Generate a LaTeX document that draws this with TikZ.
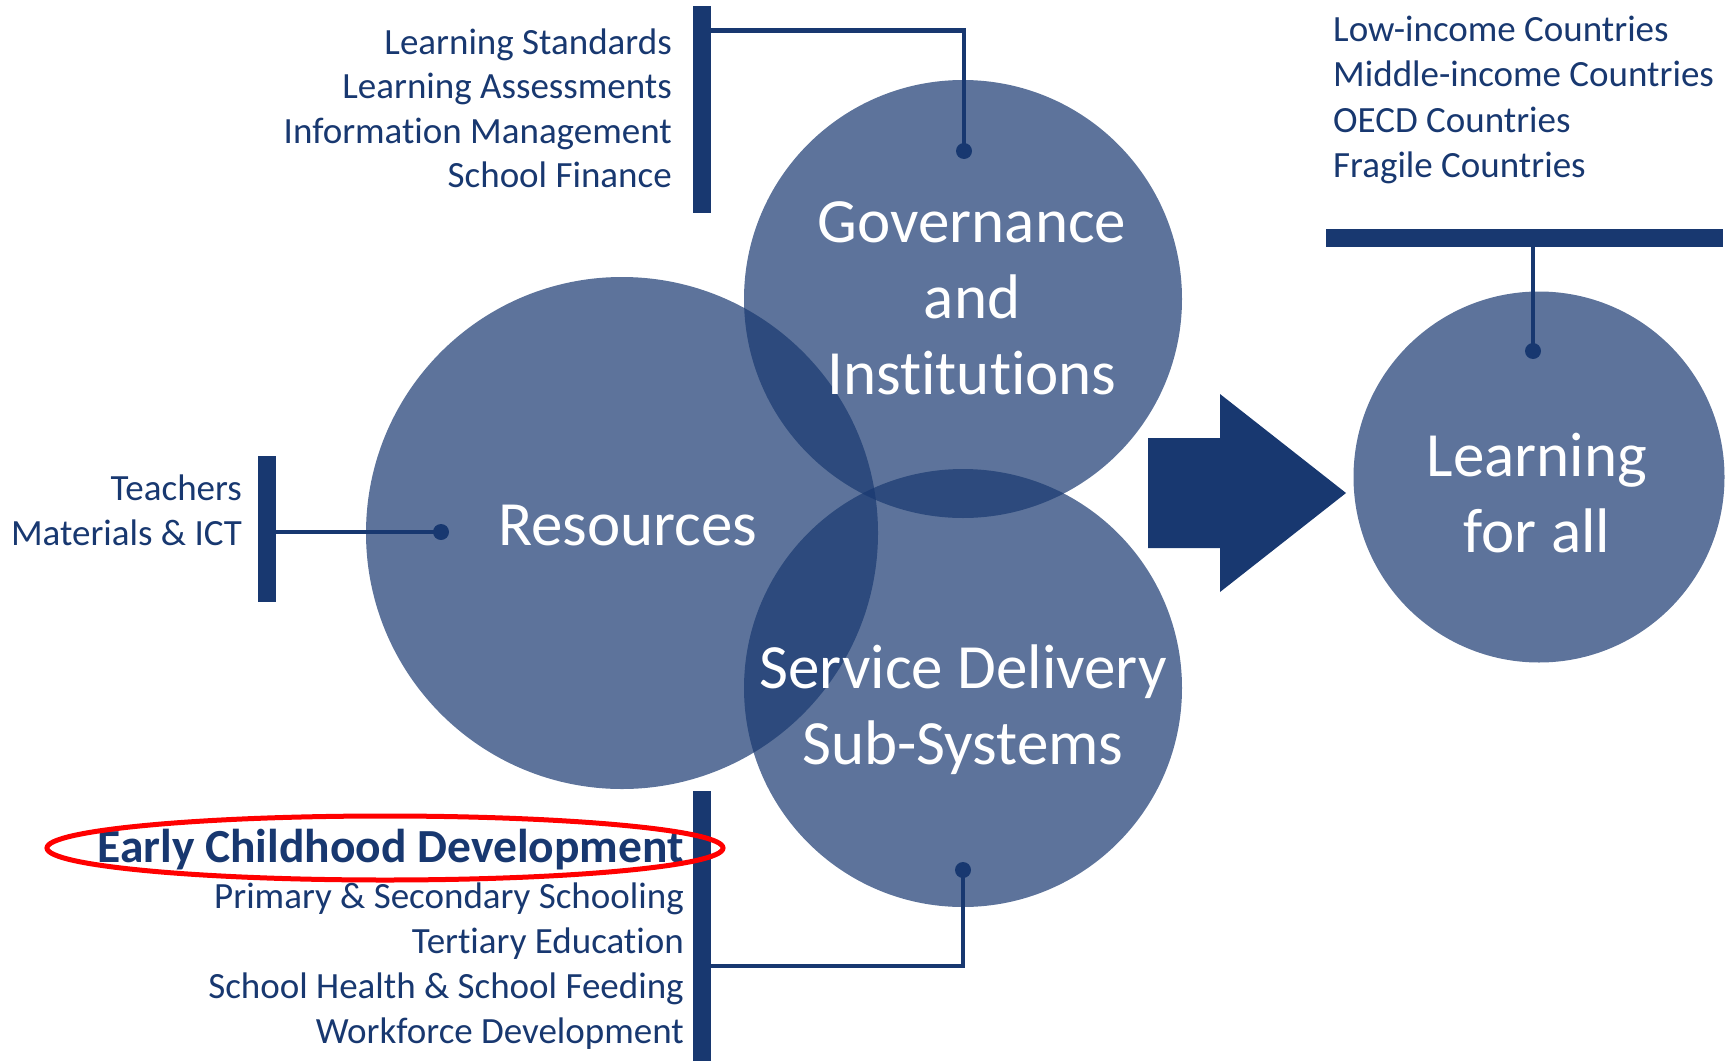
\documentclass[tikz,border=0pt]{standalone}
\usepackage{fontspec}
\setmainfont{Carlito}[Ligatures={NoCommon}]
\usetikzlibrary{shapes.geometric}
\definecolor{navy}{RGB}{24,56,112}
\begin{document}
\begin{tikzpicture}[x=1pt,y=-1pt,
  bubble/.style={circle, fill=navy, fill opacity=0.7, draw=none, inner sep=0pt, minimum size=#1},
  lbl/.style={text=white, font=\fontsize{63pt}{76pt}\selectfont, anchor=base, inner sep=0pt},
  item/.style={text=navy, font=\fontsize{37pt}{44pt}\selectfont, anchor=base east, inner sep=0pt},
  itemL/.style={item, anchor=base west},
  bar/.style={fill=navy, draw=none, inner sep=0pt, outer sep=0pt},
  dotn/.style={circle, fill=navy, draw=none, inner sep=0pt, minimum size=16pt},
  conn/.style={draw=navy, line width=4.5pt}
]
\useasboundingbox (0,0) rectangle (1729,1060);

% circles
\node[bubble=512pt] (res) at (622,533) {};
\node[bubble=438pt] (gov) at (963,299) {};
\node[bubble=438pt] (sds) at (963,688) {};
\node[bubble=371pt] (lfa) at (1539,477) {};

% circle labels
\node[lbl] (resT) at (628,545) {Resources};
\node[lbl] (govT1) at (972,242) {Governance};
\node[lbl] (govT2) at (972,318) {and};
\node[lbl] (govT3) at (972,394) {Institutions};
\node[lbl] (sdsT1) at (963,688) {Service Delivery};
\node[lbl] (sdsT2) at (963,764) {Sub-Systems};
\node[lbl] (lfaT1) at (1537,476) {Learning};
\node[lbl] (lfaT2) at (1537,552) {for all};

% block arrow
\fill[navy] (1148,438) -- (1220,438) -- (1220,394) -- (1346,493) -- (1220,592) -- (1220,548) -- (1148,548) -- cycle;

% brackets
\node[bar, minimum width=18pt, minimum height=207pt] (barG) at (702,109.5) {};
\node[bar, minimum width=18pt, minimum height=146pt] (barR) at (266.5,529) {};
\node[bar, minimum width=18pt, minimum height=270pt] (barS) at (701.5,926) {};
\node[bar, minimum width=397pt, minimum height=18pt] (barL) at (1524.5,238) {};

\node[dotn] (dotG) at (964,151) {};
\node[dotn] (dotR) at (441,532) {};
\node[dotn] (dotS) at (963,870) {};
\node[dotn] (dotL) at (1533,351) {};

\coordinate (kG) at (964,30.5);
\coordinate (kS) at (963,966);
\draw[conn] (barG.east |- kG) -- (kG) -- (dotG.center);
\draw[conn] (barR.east |- dotR) -- (dotR.center);
\draw[conn] (barS.east |- kS) -- (kS) -- (dotS.center);
\draw[conn] (barL.south -| dotL) -- (dotL.center);

% lists
\node[item] (g1) at (672,54) {Learning Standards};
\node[item] (g2) at (672,98.5) {Learning Assessments};
\node[item] (g3) at (672,143) {Information Management};
\node[item] (g4) at (672,187) {School Finance};

\node[item] (r1) at (242,500) {Teachers};
\node[item] (r2) at (242,545) {Materials \& ICT};

\node[item, font=\fontsize{47.5pt}{56pt}\selectfont\bfseries] (s1) at (684,862) {Early Childhood Development};
\node[item] (s2) at (684,908) {Primary \& Secondary Schooling};
\node[item] (s3) at (684,953) {Tertiary Education};
\node[item] (s4) at (684,998) {School Health \& School Feeding};
\node[item] (s5) at (684,1043) {Workforce Development};

\node[itemL] (l1) at (1333,41) {Low-income Countries};
\node[itemL] (l2) at (1333,86) {Middle-income Countries};
\node[itemL] (l3) at (1333,132) {OECD Countries};
\node[itemL] (l4) at (1333,177) {Fragile Countries};

% highlight
\draw[red, line width=5pt] (385,848) ellipse [x radius=338pt, y radius=32pt];
\end{tikzpicture}
\end{document}
